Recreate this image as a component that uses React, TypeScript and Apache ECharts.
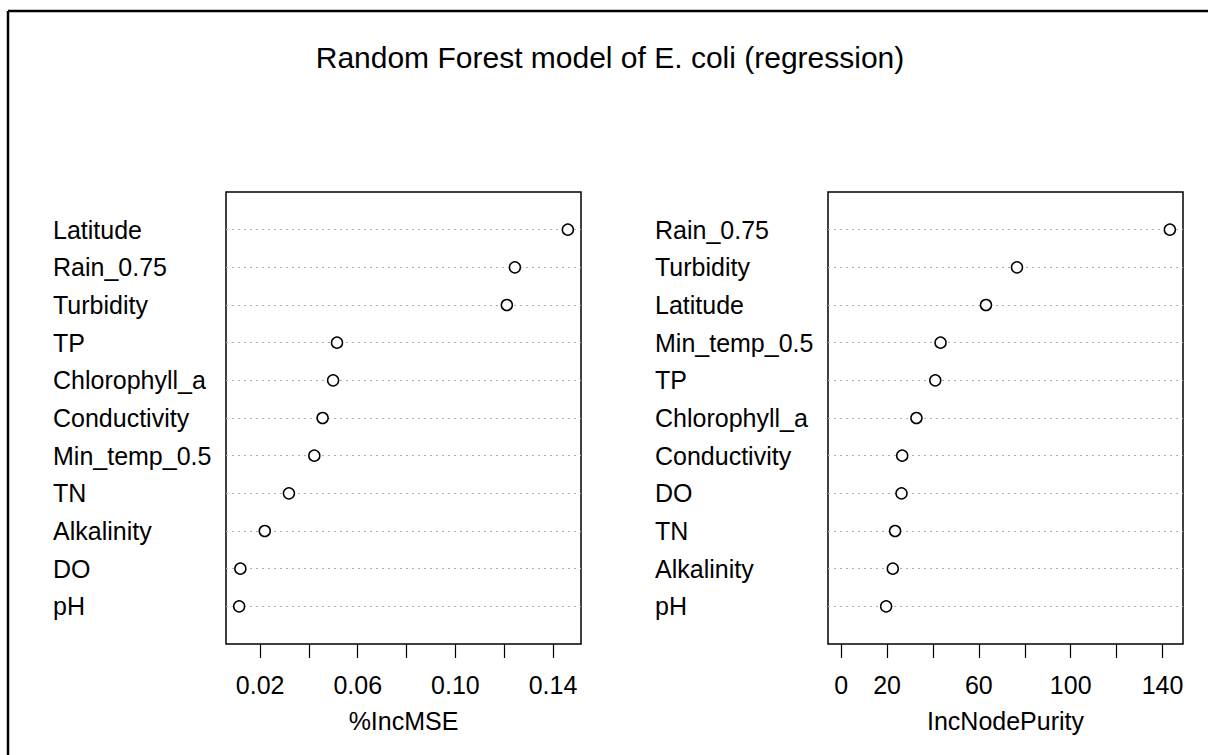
import React, { useEffect, useRef } from "react";
import * as echarts from "echarts";

const titleText = "Random Forest model of E. coli (regression)";
const leftNames = ["Latitude", "Rain_0.75", "Turbidity", "TP", "Chlorophyll_a", "Conductivity", "Min_temp_0.5", "TN", "Alkalinity", "DO", "pH"];
const leftValues = [0.1461, 0.1244, 0.1211, 0.0515, 0.0499, 0.0456, 0.0422, 0.0318, 0.0219, 0.0119, 0.0114];
const rightNames = ["Rain_0.75", "Turbidity", "Latitude", "Min_temp_0.5", "TP", "Chlorophyll_a", "Conductivity", "DO", "TN", "Alkalinity", "pH"];
const rightValues = [143.2, 76.6, 63.1, 43.3, 41.0, 32.8, 26.6, 26.3, 23.5, 22.5, 19.6];
const leftTickValues = [0.02, 0.04, 0.06, 0.08, 0.1, 0.12, 0.14];
const leftTickLabels = [0.02, 0.06, 0.1, 0.14];
const rightTickValues = [0, 20, 40, 60, 80, 100, 120, 140];
const rightTickLabels = [0, 20, 60, 100, 140];
const leftAxisName = "%IncMSE";
const rightAxisName = "IncNodePurity";

const FONT = "'Liberation Sans', Arial, Helvetica, sans-serif";

function range(lo: number, hi: number) {
  const ext = (hi - lo) * 0.04;
  return [lo - ext, hi + ext];
}

export default function App() {
  const ref = useRef<HTMLDivElement>(null);
  useEffect(() => {
    if (!ref.current) return;
    const chart = echarts.init(ref.current, null, { renderer: "svg" });
    const n = leftNames.length;
    const [lmin, lmax] = range(Math.min(...leftValues), Math.max(...leftValues));
    const [rmin, rmax] = range(0, Math.max(...rightValues));

    const mkX = (idx: number, min: number, max: number, ticks: number[], labels: number[], name: string, fmt: (v: number) => string) => ({
      type: "value",
      gridIndex: idx,
      min,
      max,
      name,
      nameLocation: "middle",
      nameGap: 64,
      nameTextStyle: { fontFamily: FONT, fontSize: 25, color: "#000" },
      axisLine: { show: false },
      splitLine: { show: false },
      axisTick: { show: true, inside: false, length: 14, customValues: ticks, lineStyle: { color: "#000", width: 1.2 } },
      axisLabel: { show: true, customValues: labels, margin: 28, fontFamily: FONT, fontSize: 25, color: "#000", formatter: (v: number) => fmt(v), hideOverlap: false },
    });

    const mkY = (idx: number, names: string[]) => ({
      type: "value",
      gridIndex: idx,
      min: 0,
      max: n + 1,
      interval: 1,
      axisLine: { show: false },
      axisTick: { show: false },
      splitLine: { show: false },
      axisLabel: {
        show: true,
        align: "left",
        margin: 173,
        fontFamily: FONT,
        fontSize: 25,
        color: "#000",
        formatter: (v: number) => (v >= 1 && v <= n ? names[n - v] : ""),
      },
    });

    const mkSeries = (idx: number, values: number[]) => ({
      type: "scatter",
      xAxisIndex: idx,
      yAxisIndex: idx,
      symbol: "circle",
      symbolSize: 11,
      itemStyle: { color: "#fff", borderColor: "#000", borderWidth: 1.5, opacity: 1 },
      data: values.map((v, i) => [v, n - i]),
      z: 5,
      markLine: {
        silent: true,
        symbol: ["none", "none"],
        label: { show: false },
        lineStyle: { type: [2, 4], color: "#b0b0b0", width: 1 },
        data: values.map((_, i) => ({ yAxis: n - i })),
        z: 1,
      },
    });

    chart.setOption({
      animation: false,
      backgroundColor: "#fff",
      title: {
        text: titleText,
        left: 605,
        top: 37,
        textAlign: "center",
        textStyle: { fontFamily: FONT, fontSize: 30, fontWeight: "normal", color: "#000" },
      },
      grid: [
        { left: 226, top: 192, width: 355, height: 452, show: true, borderColor: "#000", borderWidth: 1.5, backgroundColor: "transparent", containLabel: false },
        { left: 828, top: 192, width: 355, height: 452, show: true, borderColor: "#000", borderWidth: 1.5, backgroundColor: "transparent", containLabel: false },
      ],
      xAxis: [
        mkX(0, lmin, lmax, leftTickValues, leftTickLabels, leftAxisName, (v) => v.toFixed(2)),
        mkX(1, rmin, rmax, rightTickValues, rightTickLabels, rightAxisName, (v) => String(Math.round(v))),
      ],
      yAxis: [mkY(0, leftNames), mkY(1, rightNames)],
      series: [mkSeries(0, leftValues), mkSeries(1, rightValues)],
      graphic: [
        { type: "line", shape: { x1: 8, y1: 11, x2: 1208, y2: 11 }, style: { stroke: "#000", lineWidth: 2.5 } },
        { type: "line", shape: { x1: 8, y1: 11, x2: 8, y2: 755 }, style: { stroke: "#000", lineWidth: 2.5 } },
      ],
    });
    return () => chart.dispose();
  }, []);
  return <div ref={ref} style={{ position: "absolute", left: 0, top: 0, width: 1208, height: 755 }} />;
}
